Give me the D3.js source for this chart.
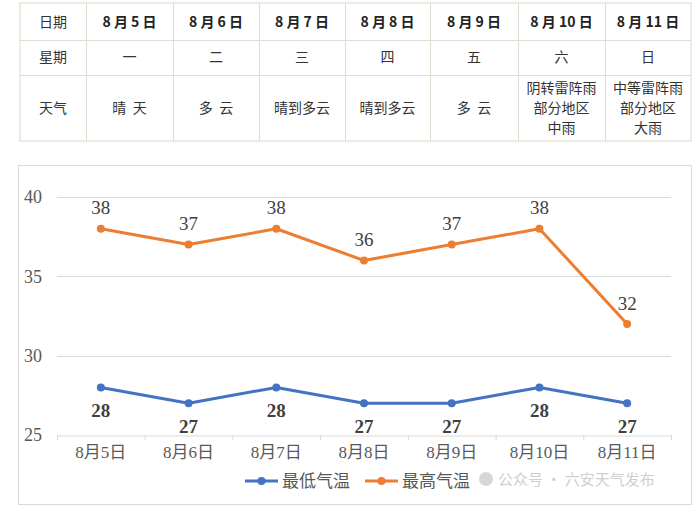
<!DOCTYPE html>
<html><head><meta charset="utf-8">
<script src="https://cdn.jsdelivr.net/npm/d3@7"></script>
<style>
html,body{margin:0;padding:0;background:#fff;}
svg{display:block;}
</style></head>
<body>
<svg id="c" width="700" height="512"></svg>
<script>
const dates = ["8月5日","8月6日","8月7日","8月8日","8月9日","8月10日","8月11日"];
const headerDates = ["8 月 5 日","8 月 6 日","8 月 7 日","8 月 8 日","8 月 9 日","8 月 10 日","8 月 11 日"];
const weekdays = ["一","二","三","四","五","六","日"];
const weather = [["晴  天"],["多  云"],["晴到多云"],["晴到多云"],["多  云"],["阴转雷阵雨","部分地区","中雨"],["中等雷阵雨","部分地区","大雨"]];
const rowLabels = ["日期","星期","天气"];
const lowTemps = [28,27,28,27,27,28,27];
const highTemps = [38,37,38,36,37,38,32];
const yTicks = [25,30,35,40];
const seriesNames = ["最低气温","最高气温"];

const svg = d3.select("#c");
const FONT = "'Liberation Serif','Noto Sans CJK SC',serif";
const CJK = "'Noto Sans CJK SC','Liberation Serif',sans-serif";

// ---------- Table ----------
const colEdges = [20,86,173,259,345,430,518,605,691];
const rowEdges = [3,40,75,141];
const tbl = svg.append("g");
tbl.append("rect").attr("x",20).attr("y",3).attr("width",671).attr("height",138)
  .attr("fill","#fff").attr("stroke","#d9d9c8").attr("stroke-width",1);
colEdges.slice(1,-1).forEach(x=>tbl.append("line").attr("x1",x+0.5).attr("x2",x+0.5)
  .attr("y1",3).attr("y2",141).attr("stroke","#deded0"));
rowEdges.slice(1,-1).forEach(y=>tbl.append("line").attr("x1",20).attr("x2",691)
  .attr("y1",y+0.5).attr("y2",y+0.5).attr("stroke","#deded0"));
const rowMid = [22,57,108];
rowLabels.forEach((t,i)=>tbl.append("text").attr("x",(colEdges[0]+colEdges[1])/2)
  .attr("y",rowMid[i]).attr("dy","0.35em").attr("text-anchor","middle")
  .attr("font-family",CJK).attr("font-size",14).attr("fill","#333").text(t));
dates.forEach((d,i)=>{
  const cx=(colEdges[i+1]+colEdges[i+2])/2;
  tbl.append("text").attr("x",cx).attr("y",rowMid[0]).attr("dy","0.35em")
    .attr("text-anchor","middle").attr("font-family",CJK).attr("font-weight","bold")
    .attr("font-size",14).attr("fill","#222").attr("xml:space","preserve").text(headerDates[i]);
  tbl.append("text").attr("x",cx).attr("y",rowMid[1]).attr("dy","0.35em")
    .attr("text-anchor","middle").attr("font-family",CJK)
    .attr("font-size",14).attr("fill","#333").text(weekdays[i]);
  const lines = weather[i];
  lines.forEach((l,j)=>{
    tbl.append("text").attr("x",cx).attr("y",rowMid[2]+(j-(lines.length-1)/2)*20).attr("dy","0.35em")
      .attr("text-anchor","middle").attr("font-family",CJK).attr("xml:space","preserve")
      .attr("font-size",14).attr("fill","#333").text(l);
  });
});

// ---------- Chart ----------
svg.append("rect").attr("x",18.5).attr("y",165.5).attr("width",673).attr("height",339)
  .attr("fill","#fff").attr("stroke","#d9d9d9");

const x = d3.scaleBand().domain(dates).range([57,671]).paddingInner(0).paddingOuter(0);
const y = d3.scaleLinear().domain([25,40]).range([435,197]);

// gridlines
svg.append("g").selectAll("line").data(yTicks.filter(v=>v>25)).join("line")
  .attr("x1",57).attr("x2",671).attr("y1",d=>Math.round(y(d))+0.5).attr("y2",d=>Math.round(y(d))+0.5)
  .attr("stroke","#d9d9d9").attr("stroke-width",1);

// y labels
svg.append("g").selectAll("text").data(yTicks).join("text")
  .attr("x",42).attr("y",d=>y(d)).attr("dy","0.35em").attr("text-anchor","end")
  .attr("font-family",FONT).attr("font-size",18).attr("fill","#595959").text(d=>d);

// x axis
const xAxis = d3.axisBottom(x).tickSize(0).tickPadding(0);
const gx = svg.append("g").attr("transform",`translate(0,${Math.round(y(25))+0.5})`).call(xAxis);
gx.select(".domain").attr("stroke","#d9d9d9");
gx.selectAll(".tick text").attr("font-family",FONT).attr("font-size",17).attr("fill","#595959").attr("dy","1.3em");
// category boundary ticks
const bounds = dates.map(d=>x(d)).concat([x.range()[1]]);
svg.append("g").selectAll("line").data(bounds).join("line")
  .attr("x1",d=>d+0.5).attr("x2",d=>d+0.5).attr("y1",Math.round(y(25))).attr("y2",Math.round(y(25))+5)
  .attr("stroke","#d9d9d9");

const cx = d=>x(d)+x.bandwidth()/2;
const colors = ["#4472C4","#ED7D31"];
const series = [lowTemps, highTemps];
series.forEach((vals,si)=>{
  const line = d3.line().x((v,i)=>cx(dates[i])).y(v=>y(v));
  svg.append("path").datum(vals).attr("d",line).attr("fill","none")
    .attr("stroke",colors[si]).attr("stroke-width",3).attr("stroke-linejoin","round");
  svg.append("g").selectAll("circle").data(vals).join("circle")
    .attr("cx",(v,i)=>cx(dates[i])).attr("cy",v=>y(v)).attr("r",4).attr("fill",colors[si]);
  svg.append("g").selectAll("text").data(vals).join("text")
    .attr("x",(v,i)=>cx(dates[i])).attr("y",v=>y(v)+(si===0?23:-21)).attr("dy","0.35em")
    .attr("text-anchor","middle").attr("font-family",FONT).attr("font-size",19)
    .attr("font-weight",si===0?"bold":"normal").attr("fill","#404040").text(v=>v);
});

// legend
const legX = [245,365];
seriesNames.forEach((n,i)=>{
  const g = svg.append("g").attr("transform",`translate(${legX[i]},481)`);
  g.append("line").attr("x1",0).attr("x2",33).attr("y1",0).attr("y2",0).attr("stroke",colors[i]).attr("stroke-width",3);
  g.append("circle").attr("cx",16.5).attr("cy",0).attr("r",4).attr("fill",colors[i]);
  g.append("text").attr("x",37).attr("y",0).attr("dy","0.35em").attr("font-family",FONT)
    .attr("font-size",17).attr("fill","#595959").text(n);
});
// watermark in chart
svg.append("circle").attr("cx",486).attr("cy",479).attr("r",7).attr("fill","#bbb").attr("opacity",0.6);
svg.append("text").attr("x",498).attr("y",480).attr("dy","0.35em").attr("font-family",CJK)
  .attr("font-size",15).attr("fill","#bbb").attr("opacity",0.7).text("公众号 · 六安天气发布");
</script>
</body></html>
